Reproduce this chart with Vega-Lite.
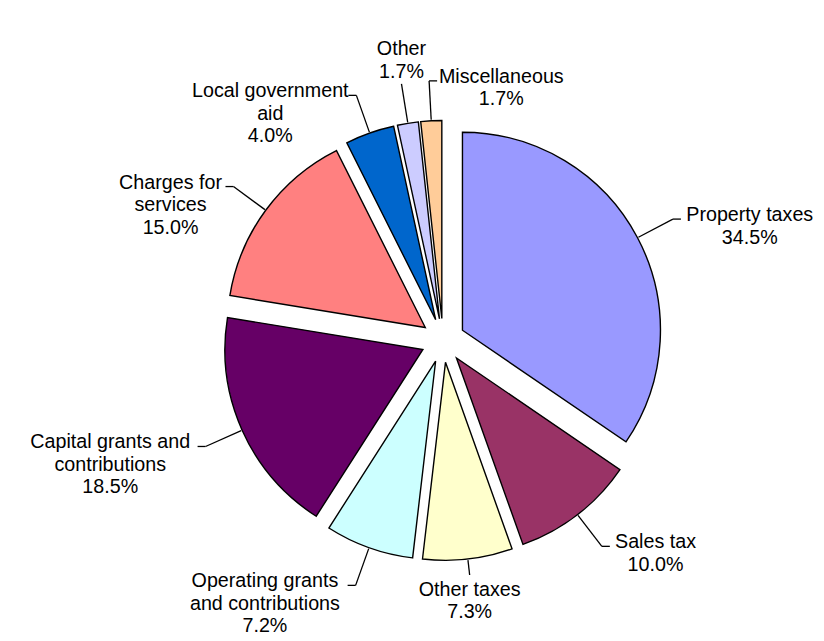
{
  "$schema": "https://vega.github.io/schema/vega-lite/v6.json",
  "width": 824,
  "height": 641,
  "autosize": "none",
  "padding": 0,
  "background": "white",
  "config": {"view": {"stroke": null}},
  "data": {
    "values": [
      {"category": "Property taxes", "label": "Property taxes\n34.5%", "value": 34.5, "order": 1},
      {"category": "Sales tax", "label": "Sales tax\n10.0%", "value": 10.0, "order": 2},
      {"category": "Other taxes", "label": "Other taxes\n7.3%", "value": 7.3, "order": 3},
      {"category": "Operating grants and contributions", "label": "Operating grants\nand contributions\n7.2%", "value": 7.2, "order": 4},
      {"category": "Capital grants and contributions", "label": "Capital grants and\ncontributions\n18.5%", "value": 18.5, "order": 5},
      {"category": "Charges for services", "label": "Charges for\nservices\n15.0%", "value": 15.0, "order": 6},
      {"category": "Local government aid", "label": "Local government\naid\n4.0%", "value": 4.0, "order": 7},
      {"category": "Other", "label": "Other\n1.7%", "value": 1.7, "order": 8},
      {"category": "Miscellaneous", "label": "Miscellaneous\n1.7%", "value": 1.7, "order": 9}
    ]
  },
  "transform": [
    {"window": [{"op": "sum", "field": "value", "as": "v1"}], "sort": [{"field": "order"}], "frame": [null, 0]},
    {"joinaggregate": [{"op": "sum", "field": "value", "as": "total"}]},
    {"calculate": "datum.v1 - datum.value", "as": "v0"},
    {"calculate": "PI * (datum.v0 + datum.v1) / datum.total", "as": "a"},
    {"calculate": "datum.a * 180 / PI", "as": "deg"},
    {"calculate": "datum.deg < 165 || datum.deg >= 355 ? 'R' : datum.deg < 190 ? 'B' : datum.deg < 345 ? 'L' : 'T'", "as": "side"},
    {"calculate": "22 * sin(datum.a)", "as": "cx"},
    {"calculate": "-22 * cos(datum.a)", "as": "cy"},
    {"calculate": "221 * sin(datum.a)", "as": "x0"},
    {"calculate": "-221 * cos(datum.a)", "as": "y0"},
    {"calculate": "datum.side === 'B' ? 236 : 260", "as": "rend"},
    {"calculate": "datum.rend * sin(datum.a)", "as": "x1"},
    {"calculate": "-datum.rend * cos(datum.a)", "as": "y1"},
    {"calculate": "datum.side === 'R' ? datum.x1 + 8 : datum.side === 'L' ? datum.x1 - 8 : datum.x1", "as": "xt"},
    {"calculate": "split(datum.label, '\\n')", "as": "lines"},
    {"calculate": "length(datum.lines)", "as": "nl"},
    {"calculate": "max(length(datum.lines[0]), length(datum.nl > 1 ? datum.lines[1] : ''), length(datum.nl > 2 ? datum.lines[2] : '')) * 9.26", "as": "w"},
    {"calculate": "datum.side === 'R' ? datum.xt + 4 + datum.w / 2 : datum.side === 'L' ? datum.xt - 4 - datum.w / 2 : datum.x1", "as": "lx"},
    {"calculate": "datum.side === 'B' ? datum.y1 + 21 : datum.side === 'T' ? datum.y1 - 6 - 22.5 * (datum.nl - 1) : datum.y1 + 2", "as": "ly"}
  ],
  "layer": [
    {
      "mark": {"type": "arc", "radius": 198, "stroke": "#000000", "strokeWidth": 1.4},
      "encoding": {
        "x": {"field": "cx", "type": "quantitative", "scale": {"domain": [-443, 381], "range": [0, 824], "nice": false, "zero": false}, "axis": null},
        "y": {"field": "cy", "type": "quantitative", "scale": {"domain": [-340.5, 300.5], "range": [0, 641], "nice": false, "zero": false}, "axis": null},
        "theta": {"field": "v0", "type": "quantitative", "stack": null, "scale": {"domain": [0, 99.9], "range": [0, 6.283185307179586]}},
        "theta2": {"field": "v1"},
        "color": {
          "field": "category",
          "type": "nominal",
          "scale": {
            "domain": ["Property taxes", "Sales tax", "Other taxes", "Operating grants and contributions", "Capital grants and contributions", "Charges for services", "Local government aid", "Other", "Miscellaneous"],
            "range": ["#9999FF", "#993366", "#FFFFCC", "#CCFFFF", "#660066", "#FF8080", "#0066CC", "#CCCCFF", "#FFCC99"]
          },
          "legend": null
        }
      }
    },
    {
      "mark": {"type": "rule", "stroke": "#000000", "strokeWidth": 1.3},
      "encoding": {
        "x": {"field": "x0", "type": "quantitative", "scale": {"domain": [-443, 381], "range": [0, 824], "nice": false, "zero": false}, "axis": null},
        "y": {"field": "y0", "type": "quantitative", "scale": {"domain": [-340.5, 300.5], "range": [0, 641], "nice": false, "zero": false}, "axis": null},
        "x2": {"field": "x1"},
        "y2": {"field": "y1"}
      }
    },
    {
      "mark": {"type": "rule", "stroke": "#000000", "strokeWidth": 1.3},
      "encoding": {
        "x": {"field": "x1", "type": "quantitative", "scale": {"domain": [-443, 381], "range": [0, 824], "nice": false, "zero": false}, "axis": null},
        "y": {"field": "y1", "type": "quantitative", "scale": {"domain": [-340.5, 300.5], "range": [0, 641], "nice": false, "zero": false}, "axis": null},
        "x2": {"field": "xt"}
      }
    },
    {
      "mark": {"type": "text", "align": "center", "baseline": "alphabetic", "lineBreak": "\n", "font": "Liberation Sans", "fontSize": 19.7, "lineHeight": 22.5, "color": "#000000"},
      "encoding": {
        "x": {"field": "lx", "type": "quantitative", "scale": {"domain": [-443, 381], "range": [0, 824], "nice": false, "zero": false}, "axis": null},
        "y": {"field": "ly", "type": "quantitative", "scale": {"domain": [-340.5, 300.5], "range": [0, 641], "nice": false, "zero": false}, "axis": null},
        "text": {"field": "label"}
      }
    }
  ]
}
